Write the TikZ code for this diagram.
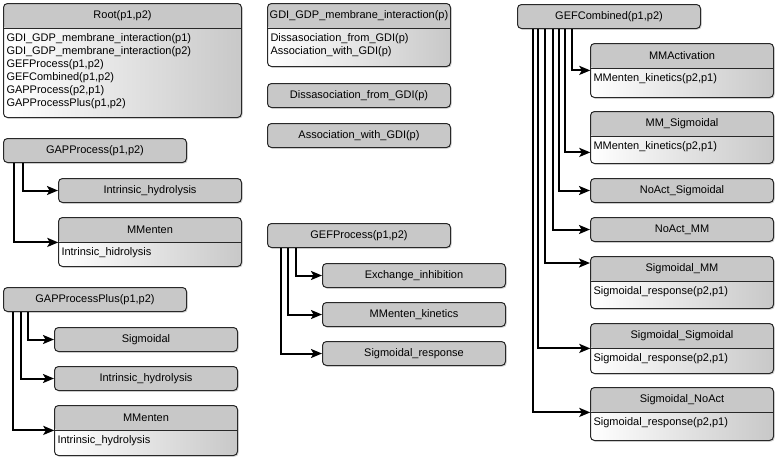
\documentclass[tikz,border=0pt]{standalone}
\usepackage{fontspec}
\setmainfont{Liberation Sans}
\usepackage{tikz}
\usetikzlibrary{positioning,arrows.meta,shadows}
\definecolor{hdrgray}{RGB}{200,200,200}
\definecolor{boxline}{RGB}{40,40,40}

% class box: name, position, width, height, title, body lines
\newcommand{\classbox}[6]{%
  \node[classbody, minimum width=#3, minimum height=#4] (#1) at #2 {};
  \node[classtitle, minimum width=#3] (#1-t) at (#1.north) {#5};
  \draw[boxline, line width=1pt] (#1-t.south west) -- (#1-t.south east);
  \node[classtext] (#1-b) at ([xshift=1pt,yshift=-3pt]#1-t.south west) {#6};
}

\begin{document}
\begin{tikzpicture}[x=1pt, y=-1pt, >={Stealth[length=11pt,width=9pt,inset=2.5pt]},
    every node/.style = {font=\fontsize{11}{13}\selectfont},
    boxshadow/.style = {drop shadow={shadow xshift=1.2pt, shadow yshift=-1.2pt, opacity=.35}},
    simplebox/.style = {draw=boxline, line width=1pt, fill=hdrgray, rounded corners=4pt,
      anchor=north west, minimum width=183, minimum height=24, inner sep=0, boxshadow},
    classbody/.style = {draw=boxline, line width=1pt, rounded corners=4pt,
      left color=white, right color=hdrgray, anchor=north west, inner sep=0, boxshadow,
      path picture={\fill[hdrgray] (path picture bounding box.north west)
        rectangle ([yshift=-25pt]path picture bounding box.north east);}},
    classtitle/.style = {anchor=north, minimum height=25, inner sep=0},
    classtext/.style = {anchor=north west, align=left, inner sep=2pt},
    link/.style = {->, line width=2pt}
    ]
    \useasboundingbox (0,0) rectangle (778,461);

    % left column
    \classbox{root}{(3,3)}{238}{114}{Root(p1,p2)}{GDI\_GDP\_membrane\_interaction(p1)\\GDI\_GDP\_membrane\_interaction(p2)\\GEFProcess(p1,p2)\\GEFCombined(p1,p2)\\GAPProcess(p2,p1)\\GAPProcessPlus(p1,p2)}

    \node[simplebox] (gap) at (3,138) {GAPProcess(p1,p2)};
    \node[simplebox] (gapih) at (58,178) {Intrinsic\_hydrolysis};
    \classbox{gapmm}{(58,217)}{183}{49}{MMenten}{Intrinsic\_hidrolysis}

    \node[simplebox] (gapp) at (3,287) {GAPProcessPlus(p1,p2)};
    \node[simplebox] (gappsig) at (54,327) {Sigmoidal};
    \node[simplebox] (gappih) at (54,366) {Intrinsic\_hydrolysis};
    \classbox{gappmm}{(54,405)}{183}{50}{MMenten}{Intrinsic\_hydrolysis}

    % middle column
    \classbox{gdi}{(267,3)}{183}{63}{GDI\_GDP\_membrane\_interaction(p)}{Dissasociation\_from\_GDI(p)\\Association\_with\_GDI(p)}
    \node[simplebox] (dis) at (267,83) {Dissasociation\_from\_GDI(p)};
    \node[simplebox] (asc) at (267,123) {Association\_with\_GDI(p)};

    \node[simplebox] (gef) at (267,223) {GEFProcess(p1,p2)};
    \node[simplebox] (exch) at (322,263) {Exchange\_inhibition};
    \node[simplebox] (mmk) at (322,302) {MMenten\_kinetics};
    \node[simplebox] (sigr) at (322,341) {Sigmoidal\_response};

    % right column
    \node[simplebox] (gefc) at (517,4) {GEFCombined(p1,p2)};
    \classbox{mma}{(590,43)}{183}{54}{MMActivation}{MMenten\_kinetics(p2,p1)}
    \classbox{mms}{(590,111)}{183}{52}{MM\_Sigmoidal}{MMenten\_kinetics(p2,p1)}
    \node[simplebox] (nas) at (590,178) {NoAct\_Sigmoidal};
    \node[simplebox] (nam) at (590,217) {NoAct\_MM};
    \classbox{smm}{(590,256)}{183}{52}{Sigmoidal\_MM}{Sigmoidal\_response(p2,p1)}
    \classbox{sss}{(590,323)}{183}{50}{Sigmoidal\_Sigmoidal}{Sigmoidal\_response(p2,p1)}
    \classbox{sna}{(590,387)}{183}{53}{Sigmoidal\_NoAct}{Sigmoidal\_response(p2,p1)}

    % connectors
    \draw[link] ([xshift=20pt]gap.south west) |- (gapih.west);
    \draw[link] ([xshift=11pt]gap.south west) |- (gapmm-t.south west);

    \draw[link] ([xshift=25pt]gapp.south west) |- (gappsig.west);
    \draw[link] ([xshift=18pt]gapp.south west) |- (gappih.west);
    \draw[link] ([xshift=10pt]gapp.south west) |- (gappmm-t.south west);

    \draw[link] ([xshift=29pt]gef.south west) |- (exch.west);
    \draw[link] ([xshift=21pt]gef.south west) |- (mmk.west);
    \draw[link] ([xshift=14pt]gef.south west) |- (sigr.west);

    \draw[link] ([xshift=55pt]gefc.south west) |- ([yshift=-2pt]mma-t.south west);
    \draw[link] ([xshift=48pt]gefc.south west) |- ([yshift=-16pt]mms-t.south west);
    \draw[link] ([xshift=42pt]gefc.south west) |- (nas.west);
    \draw[link] ([xshift=36pt]gefc.south west) |- (nam.west);
    \draw[link] ([xshift=28pt]gefc.south west) |- ([yshift=-7pt]smm.north west);
    \draw[link] ([xshift=21pt]gefc.south west) |- (sss-t.south west);
    \draw[link] ([xshift=16pt]gefc.south west) |- (sna-t.south west);
\end{tikzpicture}
\end{document}
